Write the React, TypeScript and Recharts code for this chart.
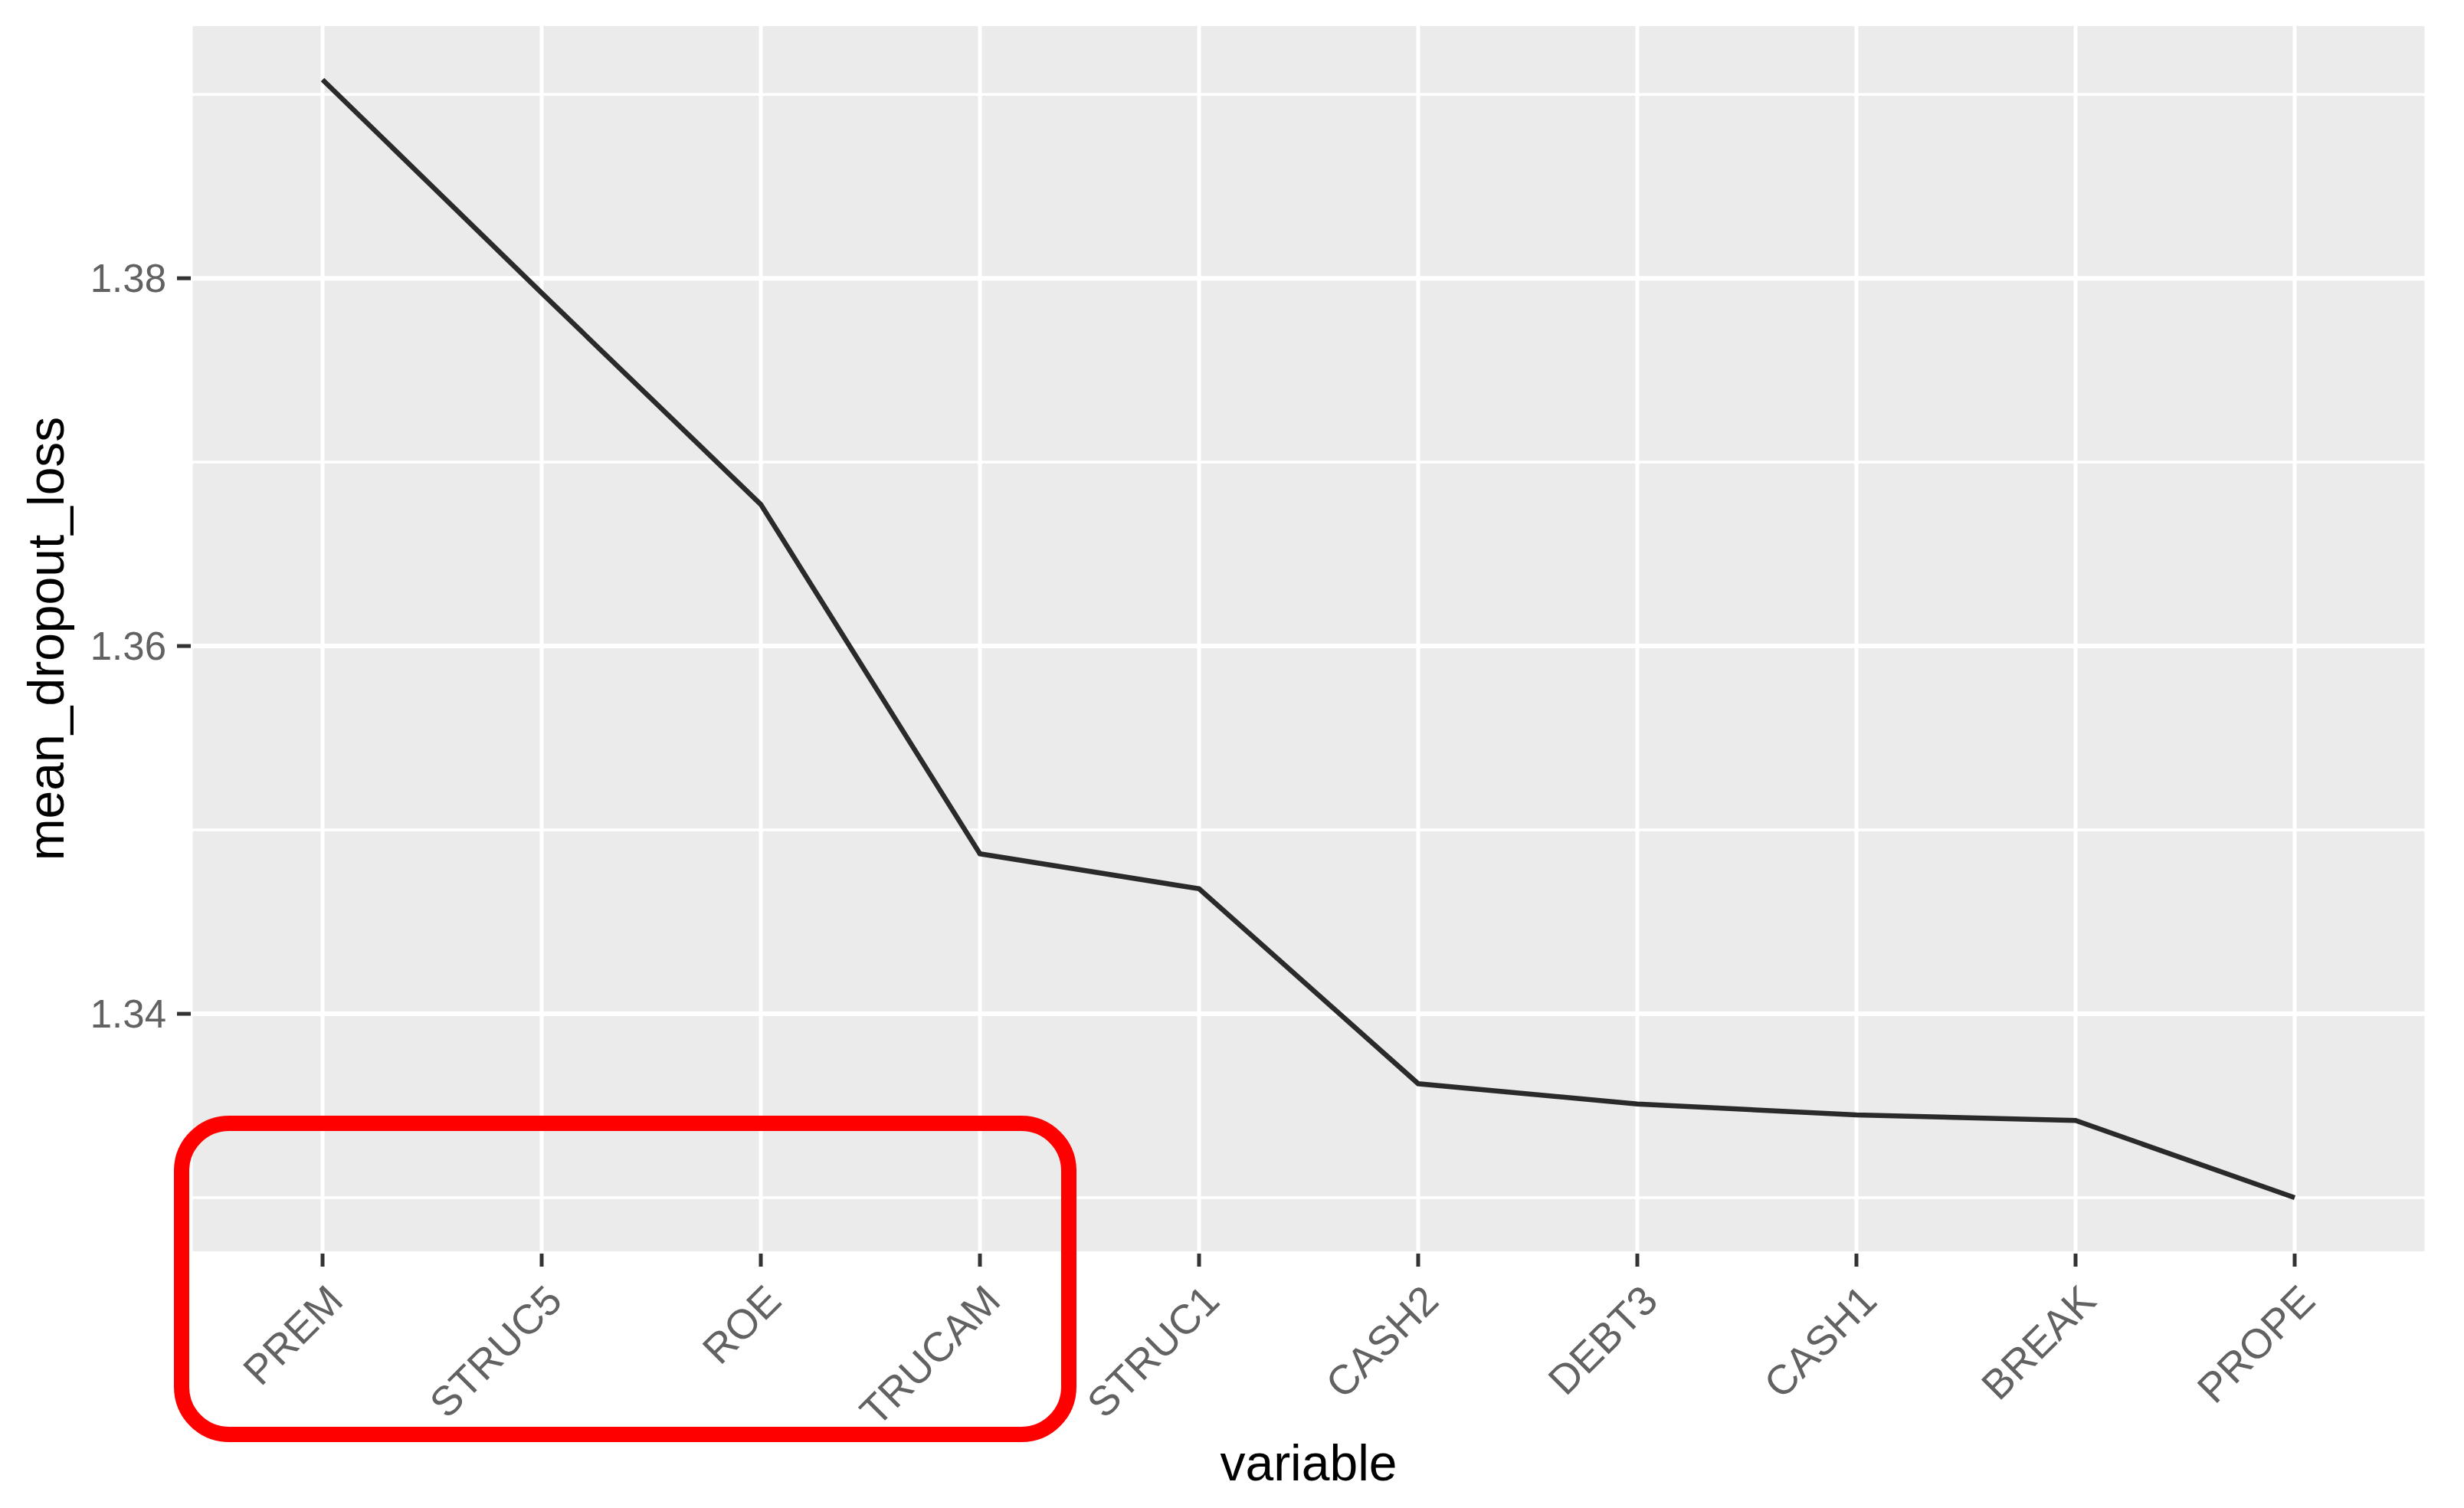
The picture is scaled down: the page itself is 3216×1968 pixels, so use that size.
import React from 'react';
import { LineChart, Line, XAxis, YAxis, CartesianGrid } from 'recharts';

// permutation importance (mean dropout loss) per variable
const variables = ['PREM', 'STRUC5', 'ROE', 'TRUCAM', 'STRUC1', 'CASH2', 'DEBT3', 'CASH1', 'BREAK', 'PROPE'];
const meanDropoutLoss = [1.3908, 1.3792, 1.3677, 1.3487, 1.3468, 1.3362, 1.3351, 1.3345, 1.3342, 1.33];
const majorTicks = [1.34, 1.36, 1.38];
const minorTicks = [1.33, 1.35, 1.37, 1.39];

const data = variables.map((variable, i) => ({ variable, mean_dropout_loss: meanDropoutLoss[i] }));

// ggplot-style 5% expansion of the continuous scale
const lo = Math.min(...meanDropoutLoss);
const hi = Math.max(...meanDropoutLoss);
const pad = (hi - lo) * 0.05;

const font = '"Liberation Sans", Arial, sans-serif';
const W = 3216;
const H = 1968;

const XTick = (props: any) => {
  const { x, y, payload } = props;
  const ax = x + 2;
  return (
    <text
      x={ax}
      y={y}
      dy="0.72em"
      textAnchor="end"
      transform={`rotate(-45 ${ax} ${y})`}
      fill="#626262"
      fontSize={54}
      fontFamily={font}
    >
      {payload.value}
    </text>
  );
};

const App: React.FC = () => {
  return (
    <div style={{ position: 'absolute', left: 0, top: 0, width: W, height: H, background: '#fff' }}>
      <LineChart width={W} height={H} data={data} margin={{ top: 31, right: 49, left: 0, bottom: 0 }}>
        <CartesianGrid fill="#EBEBEB" fillOpacity={1} horizontal={false} vertical stroke="#fff" strokeWidth={5} />
        <CartesianGrid horizontal vertical={false} horizontalValues={minorTicks} stroke="#fff" strokeWidth={3.5} />
        <CartesianGrid horizontal vertical={false} stroke="#fff" strokeWidth={6} />
        <XAxis
          dataKey="variable"
          height={332}
          padding={{ left: 172, right: 172 }}
          axisLine={false}
          tickSize={17}
          tickMargin={20}
          tickLine={{ stroke: '#333', strokeWidth: 5 }}
          tick={<XTick />}
          interval={0}
          label={{
            content: (p: any) => {
              const vb = p.viewBox;
              return (
                <text x={vb.x + vb.width / 2} y={vb.y + 296} textAnchor="middle" fill="#000" fontSize={66} fontFamily={font}>
                  variable
                </text>
              );
            },
          }}
        />
        <YAxis
          width={249}
          domain={[lo - pad, hi + pad]}
          ticks={majorTicks}
          allowDataOverflow
          axisLine={false}
          tickSize={18}
          tickMargin={14}
          tickLine={{ stroke: '#333', strokeWidth: 5 }}
          tick={{ fill: '#626262', fontSize: 51, fontFamily: font }}
          tickFormatter={(v: number) => v.toFixed(2)}
          label={{
            content: (p: any) => {
              const vb = p.viewBox;
              const cx = vb.x + 83;
              const cy = vb.y + vb.height / 2;
              return (
                <text x={cx} y={cy} transform={`rotate(-90 ${cx} ${cy})`} textAnchor="middle" fill="#000" fontSize={66} fontFamily={font}>
                  mean_dropout_loss
                </text>
              );
            },
          }}
        />
        <Line
          type="linear"
          dataKey="mean_dropout_loss"
          stroke="#2a2a2a"
          strokeWidth={6.5}
          dot={false}
          activeDot={false}
          isAnimationActive={false}
        />
      </LineChart>
      {/* red highlight box drawn over the first four labels */}
      <div
        style={{
          position: 'absolute',
          left: 227,
          top: 1456,
          width: 1178,
          height: 426,
          boxSizing: 'border-box',
          border: '20px solid #ff0000',
          borderRadius: 72,
          pointerEvents: 'none',
        }}
      />
    </div>
  );
};

export default App;
